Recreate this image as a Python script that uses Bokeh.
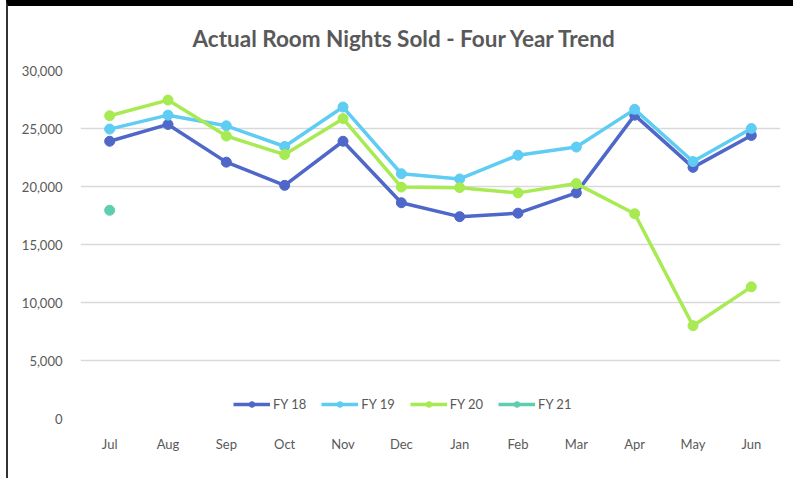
from bokeh.plotting import figure
from bokeh.models import (Legend, LegendItem, NumeralTickFormatter, FixedTicker,
                          Range1d, FactorRange)
from bokeh.embed import file_html
from bokeh.resources import INLINE

months = ["Jul", "Aug", "Sep", "Oct", "Nov", "Dec", "Jan", "Feb", "Mar", "Apr", "May", "Jun"]
fy18 = [23900, 25350, 22100, 20100, 23900, 18600, 17400, 17700, 19450, 26150, 21650, 24400]
fy19 = [24950, 26150, 25230, 23450, 26850, 21100, 20650, 22700, 23400, 26650, 22150, 25000]
fy20 = [26100, 27450, 24350, 22750, 25850, 19950, 19900, 19450, 20250, 17650, 8000, 11350]
fy21_months = ["Jul"]
fy21 = [17950]
series_names = ["FY 18", "FY 19", "FY 20", "FY 21"]
colors = ["#4E67C8", "#5ECCF3", "#A7EA52", "#5DCEAF"]
y_ticks = [0, 5000, 10000, 15000, 20000, 25000, 30000]

TXT = "#595959"
FONT = "Lato"

p = figure(x_range=FactorRange(*months), y_range=Range1d(0, 30000),
           width=785, height=490, frame_width=700, frame_height=348,
           output_backend="svg", toolbar_location=None,
           min_border_left=72, min_border_right=13, min_border_top=64, min_border_bottom=60,
           title="Actual Room Nights Sold - Four Year Trend")
p.styles = {"border-top": "6px solid #000000", "border-left": "2px solid #333333",
            "margin-left": "6px"}

p.title.text_font = FONT
p.title.text_font_size = "22.5px"
p.title.text_font_style = "bold"
p.title.text_color = TXT
p.title.align = "left"
p.title.vertical_align = "top"
p.title.offset = 112
p.title.standoff = 34

p.outline_line_color = None
p.background_fill_color = "white"
p.border_fill_color = "white"
p.xgrid.grid_line_color = None
p.ygrid.grid_line_color = "#D9D9D9"
p.ygrid.grid_line_width = 1.3
p.yaxis.ticker = FixedTicker(ticks=y_ticks)
p.yaxis.formatter = NumeralTickFormatter(format="0,0")
for ax in (p.xaxis[0], p.yaxis[0]):
    ax.axis_line_color = None
    ax.major_tick_line_color = None
    ax.minor_tick_line_color = None
    ax.major_label_text_font = FONT
    ax.major_label_text_font_size = "13px"
    ax.major_label_text_color = TXT
p.yaxis.major_label_standoff = 12
p.xaxis.major_label_standoff = 11

items = []
for name, vals, col in zip(series_names[:3], [fy18, fy19, fy20], colors[:3]):
    l = p.line(months, vals, line_color=col, line_width=3.5)
    s = p.scatter(months, vals, size=10, fill_color=col, line_color=col)
    items.append(LegendItem(label=name, renderers=[l, s]))
l21 = p.line(fy21_months, fy21, line_color=colors[3], line_width=3.5)
s21 = p.scatter(fy21_months, fy21, size=10, fill_color=colors[3], line_color=colors[3])
items.append(LegendItem(label=series_names[3], renderers=[l21, s21]))

legend = Legend(items=items, orientation="horizontal", location=(153, 6),
                glyph_width=37, glyph_height=14, label_height=14, label_standoff=3, spacing=15,
                label_text_font=FONT, label_text_font_size="13px", label_text_color=TXT,
                border_line_color=None, background_fill_alpha=0, padding=0, margin=0)
p.add_layout(legend, "center")

open("out.html", "w").write(file_html(p, INLINE))
